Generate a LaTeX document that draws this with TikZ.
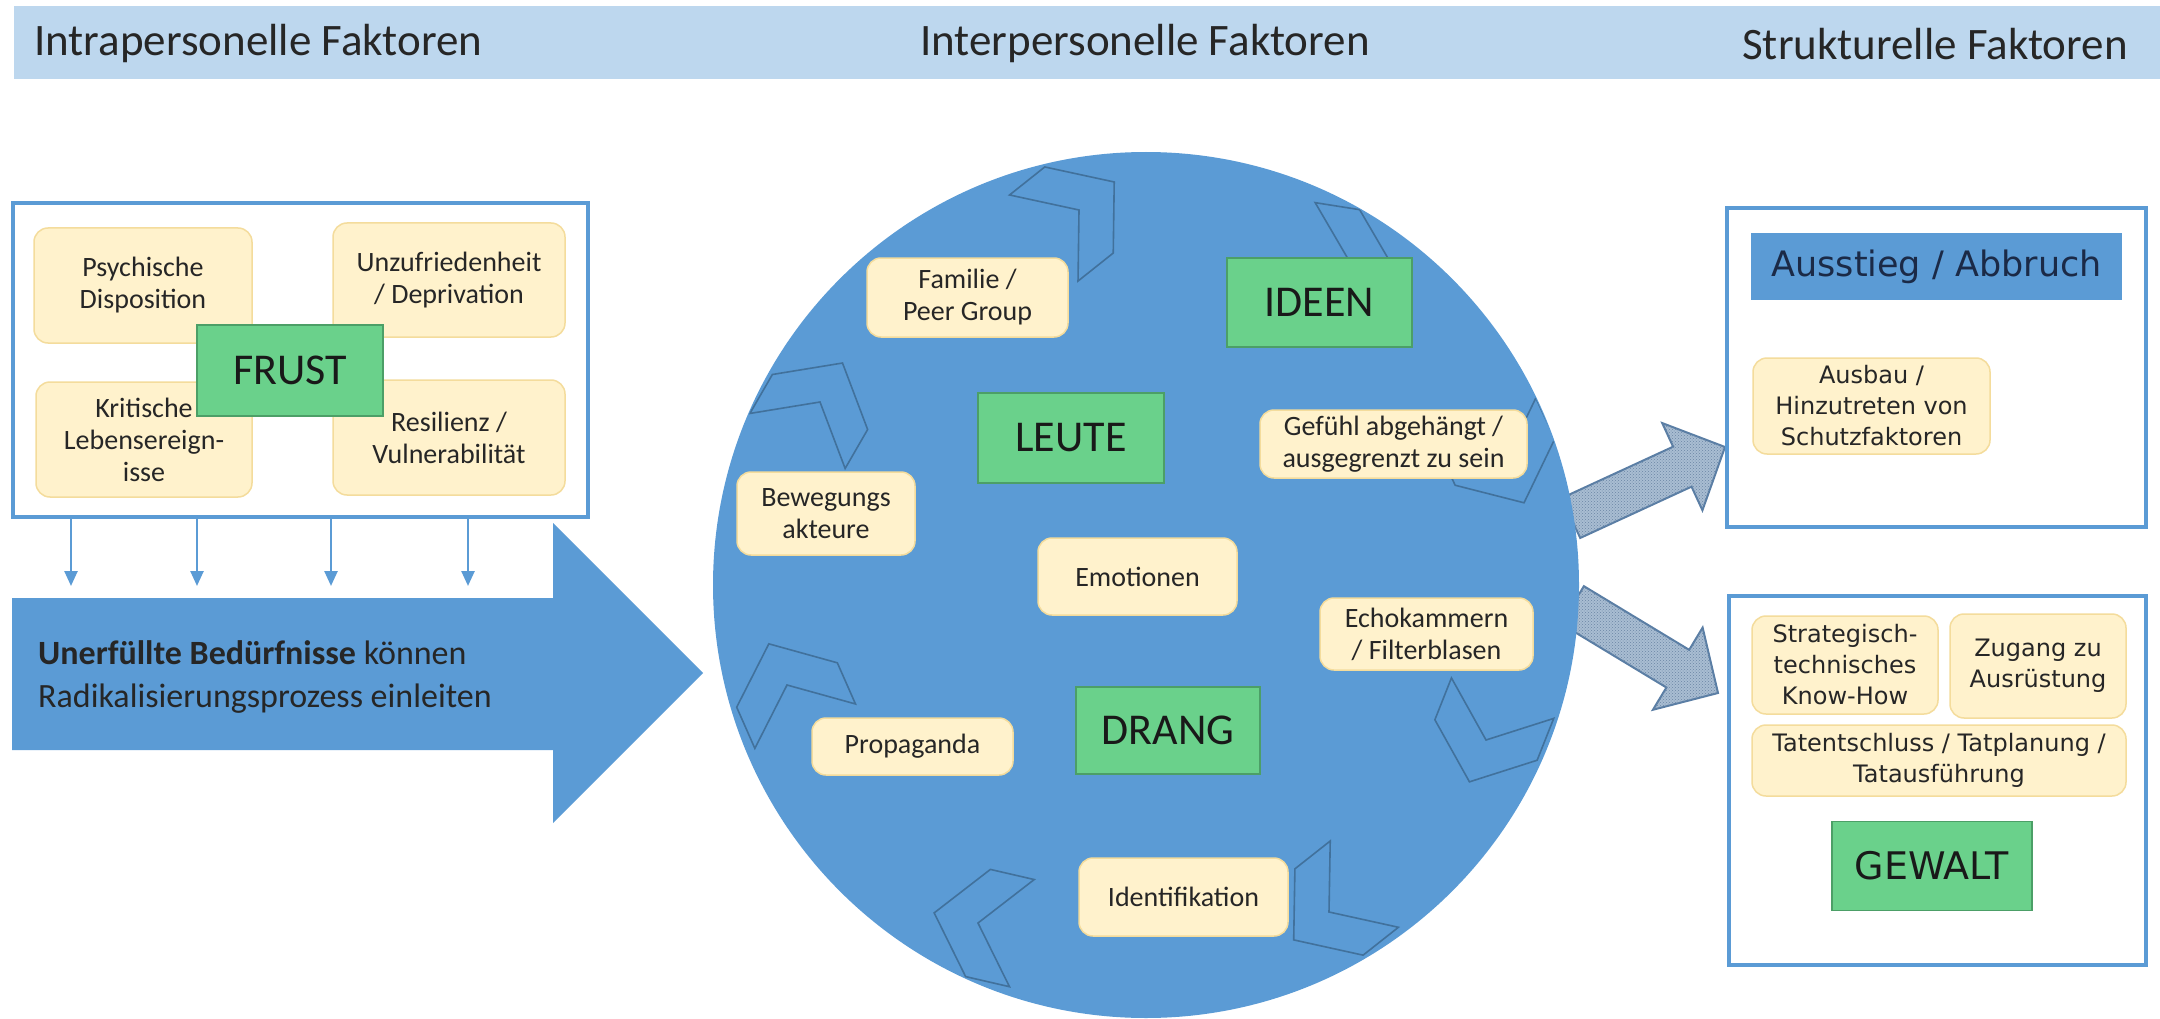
\documentclass[tikz,border=0pt]{standalone}
\usepackage{fontspec}
\setmainfont{Carlito}
\newfontfamily\vfont{DejaVu Sans}
\usetikzlibrary{calc,patterns,arrows.meta}
\definecolor{bannercol}{HTML}{BDD7EE}
\definecolor{obl}{HTML}{5B9BD5}
\definecolor{chevline}{HTML}{41719C}
\definecolor{yfill}{HTML}{FFF2CC}
\definecolor{yline}{HTML}{F4DC9C}
\definecolor{gfill}{HTML}{6AD18B}
\definecolor{gline}{HTML}{4C9F67}
\definecolor{tcol}{HTML}{262626}
\definecolor{hfill}{HTML}{A9BDD2}
\definecolor{hdot}{HTML}{6A86A4}
\definecolor{hline}{HTML}{5A7EA5}
\definecolor{navy}{HTML}{1B2A47}
\newcommand{\blockarrow}[2]{%
  \path ($(#2)!47pt!(#1)$) coordinate (bm);
  \draw[harrow] ($(#1)!22pt!90:(#2)$) -- ($(bm)!22pt!90:(#2)$) -- ($(bm)!48pt!90:(#2)$) -- (#2)
    -- ($(bm)!48pt!-90:(#2)$) -- ($(bm)!22pt!-90:(#2)$) -- ($(#1)!22pt!-90:(#2)$) -- cycle;}
\begin{document}
\begin{tikzpicture}[x=1pt,y=-1pt,
 ybox/.style={draw=yline, line width=1.5pt, fill=yfill, rounded corners=14pt, inner sep=0pt, align=center, text=tcol, font=\fontsize{28}{32}\selectfont},
 gbox/.style={draw=gline, line width=1.5pt, fill=gfill, inner sep=0pt, align=center, text=black!90, font=\fontsize{44}{50}\selectfont},
 obox/.style={draw=obl, line width=4pt, fill=white, inner sep=0pt},
 vbox/.style={ybox, font=\vfont\fontsize{24}{31}\selectfont},
 chev/.style={draw=chevline, line width=1.6pt, line join=miter},
 harrow/.style={draw=hline, line width=2pt, fill=hfill, postaction={pattern=crosshatch dots, pattern color=hdot}},
 downarr/.style={draw=obl, line width=2.5pt, -{Triangle[width=13pt,length=15pt]}},
 hdr/.style={font=\fontsize{45}{50}\selectfont, text=tcol, inner sep=0pt},
]
\useasboundingbox (0,0) rectangle (2160,1019);
% banner
\node[fill=bannercol, minimum width=2146pt, minimum height=73pt, inner sep=0pt, anchor=north west] (banner) at (14,6) {};
\node[hdr, anchor=west] (h1) at (34,44) {Intrapersonelle Faktoren};
\node[hdr, anchor=west] (h2) at (920,44) {Interpersonelle Faktoren};
\node[hdr, anchor=east] (h3) at (2128,44) {Strukturelle Faktoren};
% left box
\node[obox, minimum width=575pt, minimum height=314pt] (leftbox) at (300.5,360) {};
\node[ybox, minimum width=218pt, minimum height=115pt] (psy) at (143,285.5) {Psychische\\Disposition};
\node[ybox, minimum width=232pt, minimum height=114pt] (unz) at (449,280) {Unzufriedenheit\\/ Deprivation};
\node[ybox, minimum width=216pt, minimum height=115pt] (krit) at (144,439.5) {Kritische\\Lebensereign-\\isse};
\node[ybox, minimum width=232pt, minimum height=115pt] (res) at (449,437.5) {Resilienz /\\Vulnerabilität};
\node[gbox, minimum width=186pt, minimum height=91pt] (frust) at (290,370.5) {FRUST};
% down arrows
\foreach \i/\xx in {1/71,2/197,3/331,4/468}{
  \coordinate (d\i) at (\xx,586);
  \draw[downarr] (leftbox.south -| d\i) -- (d\i);
}
% big arrow
\coordinate (bigtip) at (703,673);
\fill[obl] (12,598) -- (553,598) -- (553,523) -- (bigtip) -- (553,823) -- (553,750) -- (12,750) -- cycle;
\node[anchor=west, align=left, inner sep=0pt, font=\fontsize{34}{43}\selectfont, text=tcol] (bedtext) at (38,677)
  {\textbf{Unerfüllte Bedürfnisse} können\\Radikalisierungsprozess einleiten};
% hatched arrows
\coordinate (ua) at (1571,518);
\coordinate (ub) at (1725,447);
\coordinate (la) at (1572.5,605);
\coordinate (lb) at (1718,693);
\blockarrow{ua}{ub}
\blockarrow{la}{lb}
% circle
\node[circle, fill=obl, minimum size=866pt, inner sep=0pt] (circ) at (1146,585) {};
\begin{scope}
\clip (circ.center) circle [radius=432pt];
\foreach \nx/\ny/\th in {1079/210/-38.5, 820/402/-60, 787/685/-113.8, 978/923/193, 1329/912/141.7, 1486/740/111.6, 1505/462/65, 1351/264/9}{
  \draw[chev] ($(\nx,\ny)+(\th:45)$) -- ($(\nx,\ny)+({\th+90}:55)$) -- ($(\nx,\ny)+({\th+90}:55)+({\th+180}:45)$)
    -- (\nx,\ny) -- ($(\nx,\ny)+({\th-90}:55)+({\th+180}:45)$) -- ($(\nx,\ny)+({\th-90}:55)$) -- cycle;
}
\end{scope}
% circle boxes
\node[ybox, minimum width=201pt, minimum height=79pt] (famil) at (967.5,297.5) {Familie /\\Peer Group};
\node[gbox, minimum width=185pt, minimum height=89pt] (ideen) at (1319.5,302.5) {IDEEN};
\node[gbox, minimum width=186pt, minimum height=90pt] (leute) at (1071,438) {LEUTE};
\node[ybox, minimum width=267pt, minimum height=68pt] (gefuehl) at (1393.5,444) {Gefühl abgehängt /\\ausgegrenzt zu sein};
\node[ybox, minimum width=178pt, minimum height=83pt] (beweg) at (826,513.5) {Bewegungs\\akteure};
\node[ybox, minimum width=199pt, minimum height=77pt] (emot) at (1137.5,576.5) {Emotionen};
\node[ybox, minimum width=213pt, minimum height=72pt] (echo) at (1426.5,634) {Echokammern\\/ Filterblasen};
\node[gbox, minimum width=184pt, minimum height=87pt] (drang) at (1168,730.5) {DRANG};
\node[ybox, minimum width=201pt, minimum height=57pt] (propa) at (912.5,746.5) {Propaganda};
\node[ybox, minimum width=209pt, minimum height=78pt] (ident) at (1183.5,897) {Identifikation};
% right boxes
\node[obox, minimum width=419pt, minimum height=319pt] (topbox) at (1936.5,367.5) {};
\node[fill=obl, minimum width=371pt, minimum height=67pt, inner sep=0pt, font=\vfont\fontsize{35}{40}\selectfont, text=navy] (ausst) at (1936.5,266.5) {Ausstieg / Abbruch};
\node[vbox, minimum width=237pt, minimum height=96pt] (ausbau) at (1871.5,406) {Ausbau /\\Hinzutreten von\\Schutzfaktoren};
\node[obox, minimum width=417pt, minimum height=369pt] (lowbox) at (1937.5,780.5) {};
\node[vbox, minimum width=186pt, minimum height=98pt] (strat) at (1845,665) {Strategisch-\\technisches\\Know-How};
\node[vbox, minimum width=176pt, minimum height=104pt] (zugang) at (2038,666) {Zugang zu\\Ausrüstung};
\node[vbox, minimum width=374pt, minimum height=71pt] (taten) at (1939,760.5) {Tatentschluss / Tatplanung /\\Tatausführung};
\node[gbox, minimum width=200pt, minimum height=89pt, font=\vfont\fontsize{38}{42}\selectfont] (gewalt) at (1932,866) {GEWALT};
\end{tikzpicture}
\end{document}
